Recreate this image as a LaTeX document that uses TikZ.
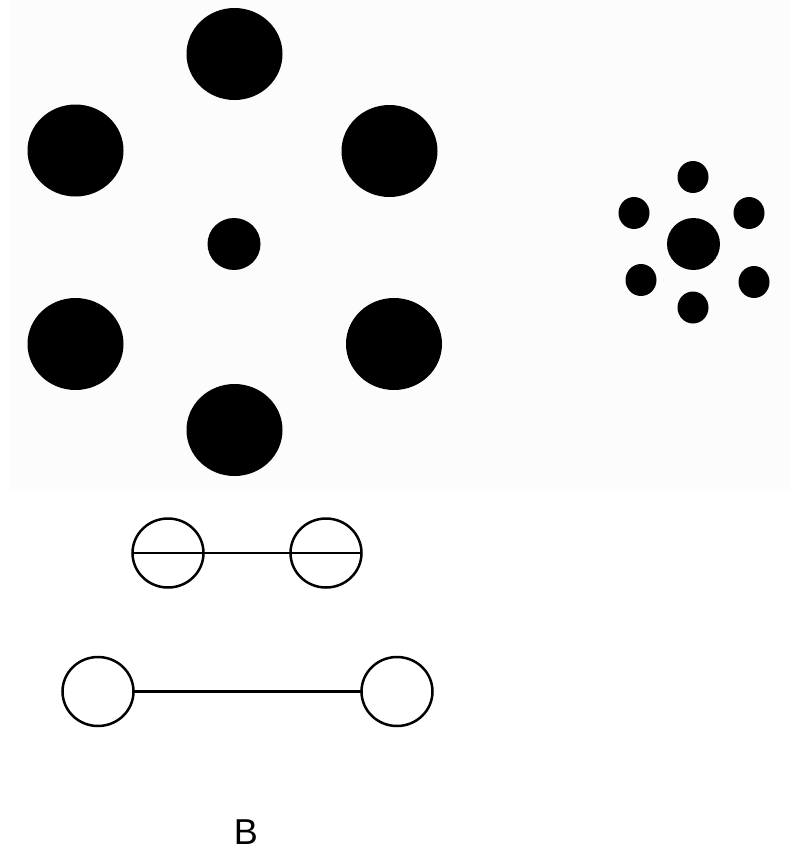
\documentclass[tikz,border=0pt]{standalone}
\usepackage{fontspec}
\setmainfont{Liberation Sans}
\usetikzlibrary{shapes.geometric}
\begin{document}
\begin{tikzpicture}[x=1pt,y=-1pt,
  bigdot/.style={ellipse,fill=black,draw=none,inner sep=0pt,outer sep=0pt,minimum width=96pt,minimum height=92pt},
  middot/.style={ellipse,fill=black,draw=none,inner sep=0pt,outer sep=0pt,minimum width=53pt,minimum height=52pt},
  smalldot/.style={ellipse,fill=black,draw=none,inner sep=0pt,outer sep=0pt,minimum width=31pt,minimum height=32pt},
  ring/.style={ellipse,draw=black,line width=2.5pt,fill=white,inner sep=0pt,outer sep=0pt,minimum width=71pt,minimum height=69pt},
  link/.style={draw=black,line width=2.5pt}]
\useasboundingbox (0,0) rectangle (790,852);
\fill[white] (0,0) rectangle (790,852);
\fill[black!1.2] (10,0) rectangle (790,491);
% left big cluster
\node[bigdot] (t)  at (234.5,54) {};
\node[bigdot] (ul) at (75.5,150.5) {};
\node[bigdot] (ur) at (389.5,151) {};
\node[middot] (c)  at (234,244) {};
\node[bigdot] (ll) at (75.5,344) {};
\node[bigdot] (lr) at (394,344) {};
\node[bigdot] (b)  at (234.5,430) {};
% right small cluster
\node[middot] (rc)  at (693.5,244) {};
\node[smalldot] (rt)  at (693,177) {};
\node[smalldot] (rul) at (634,213) {};
\node[smalldot] (rur) at (749,213) {};
\node[smalldot] (rll) at (641,280) {};
\node[smalldot] (rlr) at (754,282) {};
\node[smalldot] (rb)  at (693,307.5) {};
% top dumbbell
\node[ring] (a1) at (168,553) {};
\node[ring] (a2) at (326,553) {};
\draw[link] (a1.west) -- (a2.east);
% bottom dumbbell
\node[ring] (d1) at (98,691.5) {};
\node[ring] (d2) at (397,691.5) {};
\draw[link] (d1) -- (d2);
% label
\node[font=\fontsize{36}{40}\selectfont,inner sep=0pt] (lab) at (246,832) {B};
\end{tikzpicture}
\end{document}
